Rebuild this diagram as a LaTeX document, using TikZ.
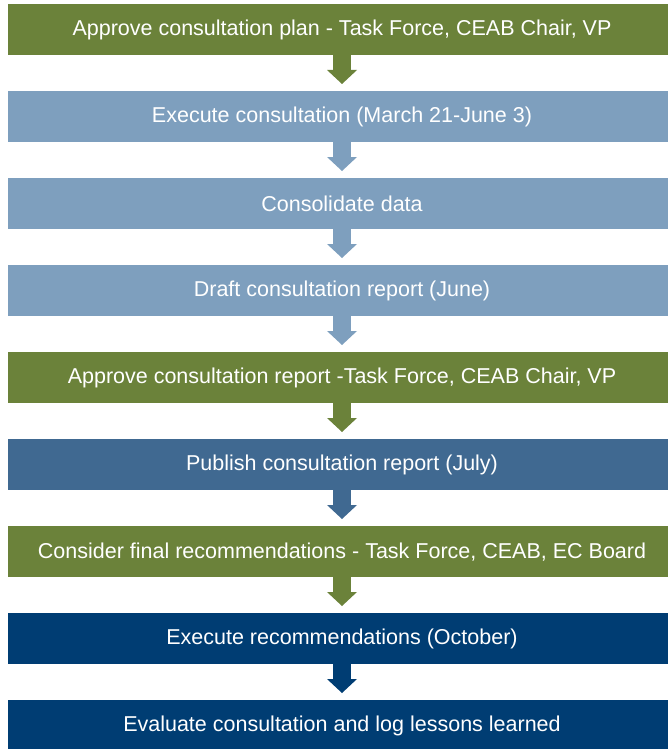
\documentclass[tikz,border=0pt]{standalone}
\usepackage{fontspec}
\setmainfont{Liberation Sans}
\usetikzlibrary{arrows.meta}
\definecolor{cgreen}{RGB}{107,130,58}
\definecolor{clight}{RGB}{126,159,190}
\definecolor{cmid}{RGB}{64,105,145}
\definecolor{cnavy}{RGB}{0,61,115}
\tikzset{
  stepbox/.style={fill=#1, text=white, minimum width=668pt, minimum height=51pt,
    inner sep=0pt, font=\fontsize{21.5}{25}\selectfont, anchor=north},
  flowarrow/.style={draw=#1, line width=18pt, line cap=butt, shorten >=7pt,
    -{Triangle[width=30pt,length=14pt,line width=0pt,fill=#1]}},
}
\begin{document}
\begin{tikzpicture}[x=1pt,y=-1pt]
\useasboundingbox (0,0) rectangle (668,749);
\clip (0,0) rectangle (668,749);
\node[stepbox=cgreen] (b1) at (342,4) {Approve consultation plan - Task Force, CEAB Chair, VP};
\node[stepbox=clight] (b2) at (342,91) {Execute consultation (March 21-June 3)};
\node[stepbox=clight] (b3) at (342,178) {Consolidate data};
\node[stepbox=clight] (b4) at (342,265) {Draft consultation report (June)};
\node[stepbox=cgreen] (b5) at (342,352) {Approve consultation report -Task Force, CEAB Chair, VP};
\node[stepbox=cmid] (b6) at (342,439) {Publish consultation report (July)};
\node[stepbox=cgreen] (b7) at (342,526) {Consider final recommendations - Task Force, CEAB, EC Board};
\node[stepbox=cnavy] (b8) at (342,613) {Execute recommendations (October)};
\node[stepbox=cnavy] (b9) at (342,700) {Evaluate consultation and log lessons learned};
\draw[flowarrow=cgreen] (b1.south) -- (b2.north);
\draw[flowarrow=clight] (b2.south) -- (b3.north);
\draw[flowarrow=clight] (b3.south) -- (b4.north);
\draw[flowarrow=clight] (b4.south) -- (b5.north);
\draw[flowarrow=cgreen] (b5.south) -- (b6.north);
\draw[flowarrow=cmid] (b6.south) -- (b7.north);
\draw[flowarrow=cgreen] (b7.south) -- (b8.north);
\draw[flowarrow=cnavy] (b8.south) -- (b9.north);
\end{tikzpicture}
\end{document}
